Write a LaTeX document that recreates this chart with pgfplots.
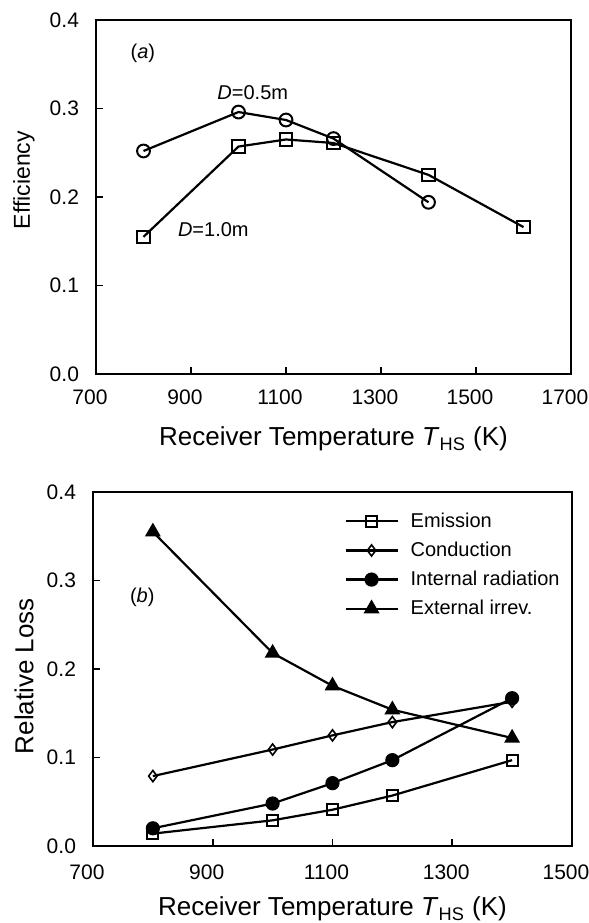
\documentclass[border=0pt]{standalone}
\usepackage{pgfplots}
\pgfplotsset{compat=1.18}
\usepackage{fontspec}
\setmainfont{Liberation Sans}
\begin{document}
\begin{tikzpicture}
\useasboundingbox (0,0) rectangle (294.5pt,461.5pt);
\pgfplotsset{
  myax/.style={
    scale only axis,
    axis line style={line width=0.9pt},
    tick align=inside,
    tick pos=left,
    xtick style={line width=0.8pt, black},
    ytick style={line width=0.8pt, black},
    major tick length=3.5pt,
    ymin=0, ymax=0.4, ytick={0,0.1,0.2,0.3,0.4},
    yticklabel style={/pgf/number format/fixed,/pgf/number format/fixed zerofill,/pgf/number format/precision=1, font=\fontsize{10.5}{11}\selectfont, xshift=-5pt},
    xticklabel style={/pgf/number format/1000 sep={}, font=\fontsize{10.5}{11}\selectfont, xshift=-3pt},
    /pgf/number format/assume math mode=true,
    label style={font=\fontsize{13}{14}\selectfont},
    every axis plot/.append style={line width=1.1pt, black},
  }
}
\begin{axis}[myax, at={(48pt,274.5pt)}, width=237.5pt, height=177pt,
  xmin=700, xmax=1700, xtick={700,900,1100,1300,1500,1700},
  xticklabel style={yshift=-4.5pt},
  xlabel={Receiver Temperature \textit{T}\textsubscript{HS} (K)},
  ylabel={Efficiency},
  xlabel style={at={(axis description cs:0.5,0)}, anchor=base, yshift=-36pt},
  ylabel style={at={(axis description cs:-0.1516,0.548)}, anchor=center, font=\fontsize{11.5}{12}\selectfont},
]
\addplot[mark=o, mark size=3.2pt, mark options={line width=1pt, fill=white}] coordinates {
(800,0.252) (1000,0.296) (1100,0.287) (1200,0.266) (1400,0.194)};
\addplot[mark=square, mark size=3.1pt, mark options={line width=1.1pt, fill=white}] coordinates {
(800,0.155) (1000,0.257) (1100,0.265) (1200,0.261) (1400,0.225) (1600,0.166)};
\node[anchor=west, font=\fontsize{10}{11}\selectfont] at (axis cs:758,0.362) {(\textit{a})};
\node[font=\fontsize{10}{11}\selectfont] at (axis cs:1030,0.318) {\textit{D}=0.5m};
\node[font=\fontsize{10}{11}\selectfont] at (axis cs:947,0.163) {\textit{D}=1.0m};
\end{axis}
\begin{axis}[myax, at={(46.5pt,38.5pt)}, width=239.5pt, height=177pt,
  xmin=700, xmax=1500, xtick={700,900,1100,1300,1500},
  xticklabel style={yshift=-6pt},
  xlabel={Receiver Temperature \textit{T}\textsubscript{HS} (K)},
  ylabel={Relative Loss},
  xlabel style={at={(axis description cs:0.5,0)}, anchor=base, yshift=-35pt},
  ylabel style={at={(axis description cs:-0.144,0.48)}, anchor=center},
  legend style={draw=none, fill=none, inner sep=0pt, outer sep=0pt, at={(0.525,0.953)}, anchor=north west,
    font=\fontsize{10}{11}\selectfont, row sep=1.8pt, column sep=4pt},
  legend cell align=left,
  legend image code/.code={\draw[mark repeat=2,mark phase=2,#1] plot coordinates {(0pt,0pt) (13pt,0pt) (26pt,0pt)};},
]
\addplot[mark=square, mark size=2.8pt, mark options={line width=1pt, fill=white}] coordinates {
(800,0.014) (1000,0.029) (1100,0.041) (1200,0.057) (1400,0.097)};
\addlegendentry{Emission}
\addplot[mark=diamond, mark size=2.8pt, mark options={line width=0.8pt, fill=white}] coordinates {
(800,0.079) (1000,0.109) (1100,0.125) (1200,0.140) (1400,0.163)};
\addlegendentry{Conduction}
\addplot[mark=*, mark size=3pt] coordinates {
(800,0.020) (1000,0.048) (1100,0.071) (1200,0.097) (1400,0.167)};
\addlegendentry{Internal radiation}
\addplot[mark=triangle*, mark size=3.5pt] coordinates {
(800,0.355) (1000,0.218) (1100,0.181) (1200,0.154) (1400,0.122)};
\addlegendentry{External irrev.}
\node[anchor=west, font=\fontsize{10}{11}\selectfont] at (axis cs:750,0.281) {(\textit{b})};
\end{axis}
\end{tikzpicture}
\end{document}
